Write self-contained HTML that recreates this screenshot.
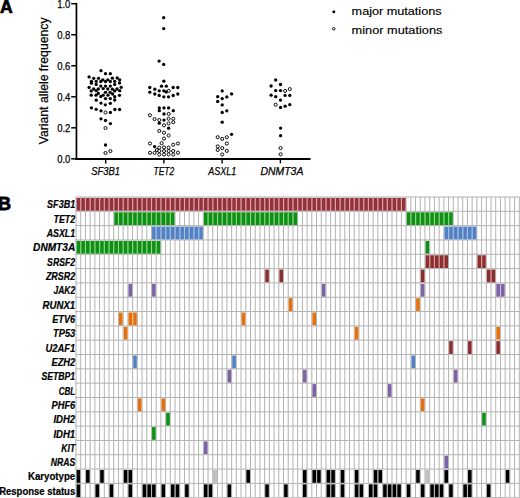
<!DOCTYPE html>
<html><head><meta charset="utf-8"><title>Figure</title>
<style>
html,body{margin:0;padding:0;background:#fff;}
body{width:520px;height:498px;overflow:hidden;}
svg{display:block;font-family:"Liberation Sans",sans-serif;}
</style></head>
<body>
<svg width="520" height="498" viewBox="0 0 520 498">
<rect width="520" height="498" fill="#fff"/>
<text x="0.1" y="12.8" font-size="17.6" font-weight="bold" stroke="#000" stroke-width="0.7">A</text>
<text x="-1.9" y="209.6" font-size="18.0" font-weight="bold" stroke="#000" stroke-width="0.8">B</text>
<text transform="translate(47.9,80.9) rotate(-90)" text-anchor="middle" font-size="12" stroke="#000" stroke-width="0.25" textLength="126.8" lengthAdjust="spacingAndGlyphs">Variant allele frequency</text>
<g stroke-linecap="butt">
<line x1="76.45" y1="2.9" x2="76.45" y2="159.8" stroke="#000" stroke-width="1.7"/>
<line x1="75.4" y1="159.0" x2="310.5" y2="159.0" stroke="#000" stroke-width="1.8"/>
<line x1="71.2" y1="3.70" x2="76.4" y2="3.70" stroke="#000" stroke-width="1.5"/>
<line x1="71.2" y1="34.73" x2="76.4" y2="34.73" stroke="#000" stroke-width="1.5"/>
<line x1="71.2" y1="65.76" x2="76.4" y2="65.76" stroke="#000" stroke-width="1.5"/>
<line x1="71.2" y1="96.79" x2="76.4" y2="96.79" stroke="#000" stroke-width="1.5"/>
<line x1="71.2" y1="127.82" x2="76.4" y2="127.82" stroke="#000" stroke-width="1.5"/>
<line x1="71.2" y1="158.85" x2="76.4" y2="158.85" stroke="#000" stroke-width="1.5"/>
<line x1="105.7" y1="159.0" x2="105.7" y2="163.4" stroke="#000" stroke-width="1.4"/>
<line x1="163.9" y1="159.0" x2="163.9" y2="163.4" stroke="#000" stroke-width="1.4"/>
<line x1="222.1" y1="159.0" x2="222.1" y2="163.4" stroke="#000" stroke-width="1.4"/>
<line x1="280.4" y1="159.0" x2="280.4" y2="163.4" stroke="#000" stroke-width="1.4"/>
</g>
<g font-size="10.4" stroke="#000" stroke-width="0.25">
<text x="70.4" y="7.80" text-anchor="end" textLength="13.2" lengthAdjust="spacingAndGlyphs">1.0</text>
<text x="70.4" y="38.83" text-anchor="end" textLength="13.2" lengthAdjust="spacingAndGlyphs">0.8</text>
<text x="70.4" y="69.86" text-anchor="end" textLength="13.2" lengthAdjust="spacingAndGlyphs">0.6</text>
<text x="70.4" y="100.89" text-anchor="end" textLength="13.2" lengthAdjust="spacingAndGlyphs">0.4</text>
<text x="70.4" y="131.92" text-anchor="end" textLength="13.2" lengthAdjust="spacingAndGlyphs">0.2</text>
<text x="70.4" y="162.95" text-anchor="end" textLength="13.2" lengthAdjust="spacingAndGlyphs">0.0</text>
<text x="105.7" y="175.0" text-anchor="middle" font-style="italic" font-size="10.8" textLength="28.7" lengthAdjust="spacingAndGlyphs">SF3B1</text>
<text x="163.9" y="175.0" text-anchor="middle" font-style="italic" font-size="10.8" textLength="20.7" lengthAdjust="spacingAndGlyphs">TET2</text>
<text x="222.3" y="175.0" text-anchor="middle" font-style="italic" font-size="10.8" textLength="27.9" lengthAdjust="spacingAndGlyphs">ASXL1</text>
<text x="281.9" y="175.0" text-anchor="middle" font-style="italic" font-size="10.8" textLength="42.9" lengthAdjust="spacingAndGlyphs">DNMT3A</text>
</g>
<g fill="#000">
<circle cx="101.0" cy="70.7" r="1.65"/>
<circle cx="105.5" cy="73.7" r="1.65"/>
<circle cx="110.3" cy="73.7" r="1.65"/>
<circle cx="89.1" cy="76.9" r="1.65"/>
<circle cx="93.7" cy="78.3" r="1.65"/>
<circle cx="98.5" cy="78.3" r="1.65"/>
<circle cx="112.4" cy="78.2" r="1.65"/>
<circle cx="117.2" cy="78.0" r="1.65"/>
<circle cx="100.8" cy="81.5" r="1.65"/>
<circle cx="102.8" cy="79.8" r="1.65"/>
<circle cx="105.5" cy="81.5" r="1.65"/>
<circle cx="107.8" cy="79.8" r="1.65"/>
<circle cx="110.3" cy="81.5" r="1.65"/>
<circle cx="91.4" cy="81.3" r="1.65"/>
<circle cx="91.4" cy="83.2" r="1.65"/>
<circle cx="96.2" cy="81.3" r="1.65"/>
<circle cx="96.2" cy="84.4" r="1.65"/>
<circle cx="114.7" cy="81.3" r="1.65"/>
<circle cx="114.7" cy="84.4" r="1.65"/>
<circle cx="119.7" cy="79.8" r="1.65"/>
<circle cx="119.5" cy="83.0" r="1.65"/>
<circle cx="89.1" cy="87.4" r="1.65"/>
<circle cx="100.8" cy="86.1" r="1.65"/>
<circle cx="105.5" cy="86.1" r="1.65"/>
<circle cx="110.3" cy="86.1" r="1.65"/>
<circle cx="121.2" cy="87.3" r="1.65"/>
<circle cx="93.7" cy="89.0" r="1.65"/>
<circle cx="98.3" cy="89.0" r="1.65"/>
<circle cx="103.2" cy="88.6" r="1.65"/>
<circle cx="107.8" cy="89.0" r="1.65"/>
<circle cx="112.4" cy="89.2" r="1.65"/>
<circle cx="117.0" cy="89.0" r="1.65"/>
<circle cx="91.2" cy="90.9" r="1.65"/>
<circle cx="96.2" cy="90.7" r="1.65"/>
<circle cx="114.7" cy="90.9" r="1.65"/>
<circle cx="119.7" cy="90.7" r="1.65"/>
<circle cx="105.5" cy="92.3" r="1.65"/>
<circle cx="110.1" cy="92.3" r="1.65"/>
<circle cx="98.3" cy="93.4" r="1.65"/>
<circle cx="112.6" cy="94.0" r="1.65"/>
<circle cx="91.2" cy="95.2" r="1.65"/>
<circle cx="96.0" cy="95.2" r="1.65"/>
<circle cx="103.2" cy="95.2" r="1.65"/>
<circle cx="108.0" cy="95.2" r="1.65"/>
<circle cx="119.5" cy="95.3" r="1.65"/>
<circle cx="100.8" cy="96.5" r="1.65"/>
<circle cx="114.7" cy="96.7" r="1.65"/>
<circle cx="105.5" cy="98.6" r="1.65"/>
<circle cx="110.3" cy="98.6" r="1.65"/>
<circle cx="114.7" cy="100.0" r="1.65"/>
<circle cx="96.2" cy="100.2" r="1.65"/>
<circle cx="101.0" cy="103.1" r="1.65"/>
<circle cx="110.3" cy="103.3" r="1.65"/>
<circle cx="105.3" cy="104.8" r="1.65"/>
<circle cx="91.4" cy="107.8" r="1.65"/>
<circle cx="96.2" cy="109.3" r="1.65"/>
<circle cx="101.0" cy="110.8" r="1.65"/>
<circle cx="105.5" cy="112.5" r="1.55" fill="#fff" stroke="#000" stroke-width="0.95"/>
<circle cx="110.4" cy="112.5" r="1.65"/>
<circle cx="114.9" cy="109.5" r="1.65"/>
<circle cx="119.6" cy="109.5" r="1.65"/>
<circle cx="101.0" cy="118.8" r="1.65"/>
<circle cx="105.5" cy="120.5" r="1.65"/>
<circle cx="110.4" cy="123.6" r="1.65"/>
<circle cx="105.5" cy="128.0" r="1.55" fill="#fff" stroke="#000" stroke-width="0.95"/>
<circle cx="105.5" cy="145.0" r="1.65"/>
<circle cx="105.5" cy="153.0" r="1.55" fill="#fff" stroke="#000" stroke-width="0.95"/>
<circle cx="110.4" cy="151.1" r="1.55" fill="#fff" stroke="#000" stroke-width="0.95"/>
<circle cx="163.7" cy="17.7" r="1.65"/>
<circle cx="163.7" cy="28.6" r="1.65"/>
<circle cx="159.1" cy="61.1" r="1.65"/>
<circle cx="163.7" cy="64.4" r="1.65"/>
<circle cx="163.8" cy="81.2" r="1.65"/>
<circle cx="161.5" cy="86.2" r="1.65"/>
<circle cx="166.3" cy="86.2" r="1.65"/>
<circle cx="149.8" cy="87.5" r="1.65"/>
<circle cx="173.2" cy="87.5" r="1.65"/>
<circle cx="177.8" cy="87.5" r="1.65"/>
<circle cx="154.8" cy="89.2" r="1.65"/>
<circle cx="159.2" cy="90.8" r="1.65"/>
<circle cx="163.8" cy="90.8" r="1.65"/>
<circle cx="166.2" cy="92.0" r="1.65"/>
<circle cx="168.8" cy="90.8" r="1.55" fill="#fff" stroke="#000" stroke-width="0.95"/>
<circle cx="149.8" cy="92.2" r="1.65"/>
<circle cx="154.8" cy="94.0" r="1.65"/>
<circle cx="159.2" cy="95.5" r="1.65"/>
<circle cx="163.8" cy="96.8" r="1.65"/>
<circle cx="168.5" cy="96.8" r="1.65"/>
<circle cx="173.2" cy="95.5" r="1.65"/>
<circle cx="177.8" cy="94.0" r="1.65"/>
<circle cx="159.3" cy="107.9" r="1.65"/>
<circle cx="159.3" cy="110.7" r="1.65"/>
<circle cx="164.0" cy="107.9" r="1.65"/>
<circle cx="168.6" cy="107.9" r="1.65"/>
<circle cx="173.3" cy="110.7" r="1.65"/>
<circle cx="149.9" cy="115.2" r="1.55" fill="#fff" stroke="#000" stroke-width="0.95"/>
<circle cx="164.0" cy="114.0" r="1.65"/>
<circle cx="168.7" cy="113.9" r="1.55" fill="#fff" stroke="#000" stroke-width="0.95"/>
<circle cx="154.6" cy="119.1" r="1.55" fill="#fff" stroke="#000" stroke-width="0.95"/>
<circle cx="159.3" cy="120.1" r="1.55" fill="#fff" stroke="#000" stroke-width="0.95"/>
<circle cx="164.0" cy="120.1" r="1.65"/>
<circle cx="168.6" cy="118.7" r="1.55" fill="#fff" stroke="#000" stroke-width="0.95"/>
<circle cx="173.3" cy="118.7" r="1.55" fill="#fff" stroke="#000" stroke-width="0.95"/>
<circle cx="159.3" cy="123.2" r="1.65"/>
<circle cx="164.0" cy="125.3" r="1.55" fill="#fff" stroke="#000" stroke-width="0.95"/>
<circle cx="168.6" cy="123.5" r="1.55" fill="#fff" stroke="#000" stroke-width="0.95"/>
<circle cx="173.3" cy="122.2" r="1.55" fill="#fff" stroke="#000" stroke-width="0.95"/>
<circle cx="168.6" cy="128.2" r="1.65"/>
<circle cx="159.3" cy="130.9" r="1.55" fill="#fff" stroke="#000" stroke-width="0.95"/>
<circle cx="164.0" cy="132.7" r="1.55" fill="#fff" stroke="#000" stroke-width="0.95"/>
<circle cx="168.6" cy="135.5" r="1.55" fill="#fff" stroke="#000" stroke-width="0.95"/>
<circle cx="164.0" cy="138.6" r="1.55" fill="#fff" stroke="#000" stroke-width="0.95"/>
<circle cx="150.0" cy="143.5" r="1.55" fill="#fff" stroke="#000" stroke-width="0.95"/>
<circle cx="161.6" cy="143.2" r="1.55" fill="#fff" stroke="#000" stroke-width="0.95"/>
<circle cx="173.2" cy="144.7" r="1.55" fill="#fff" stroke="#000" stroke-width="0.95"/>
<circle cx="177.9" cy="143.5" r="1.55" fill="#fff" stroke="#000" stroke-width="0.95"/>
<circle cx="154.6" cy="146.6" r="1.65"/>
<circle cx="159.3" cy="147.6" r="1.55" fill="#fff" stroke="#000" stroke-width="0.95"/>
<circle cx="164.0" cy="147.4" r="1.55" fill="#fff" stroke="#000" stroke-width="0.95"/>
<circle cx="168.6" cy="147.6" r="1.55" fill="#fff" stroke="#000" stroke-width="0.95"/>
<circle cx="156.9" cy="150.0" r="1.55" fill="#fff" stroke="#000" stroke-width="0.95"/>
<circle cx="159.3" cy="151.0" r="1.55" fill="#fff" stroke="#000" stroke-width="0.95"/>
<circle cx="164.0" cy="151.0" r="1.55" fill="#fff" stroke="#000" stroke-width="0.95"/>
<circle cx="168.6" cy="151.0" r="1.55" fill="#fff" stroke="#000" stroke-width="0.95"/>
<circle cx="173.2" cy="151.0" r="1.55" fill="#fff" stroke="#000" stroke-width="0.95"/>
<circle cx="150.0" cy="152.8" r="1.55" fill="#fff" stroke="#000" stroke-width="0.95"/>
<circle cx="154.6" cy="152.9" r="1.55" fill="#fff" stroke="#000" stroke-width="0.95"/>
<circle cx="177.9" cy="152.7" r="1.55" fill="#fff" stroke="#000" stroke-width="0.95"/>
<circle cx="159.3" cy="154.5" r="1.55" fill="#fff" stroke="#000" stroke-width="0.95"/>
<circle cx="164.0" cy="154.5" r="1.55" fill="#fff" stroke="#000" stroke-width="0.95"/>
<circle cx="168.6" cy="154.5" r="1.55" fill="#fff" stroke="#000" stroke-width="0.95"/>
<circle cx="173.3" cy="154.5" r="1.55" fill="#fff" stroke="#000" stroke-width="0.95"/>
<circle cx="222.2" cy="90.9" r="1.65"/>
<circle cx="231.6" cy="93.9" r="1.65"/>
<circle cx="217.7" cy="96.7" r="1.65"/>
<circle cx="222.2" cy="98.6" r="1.65"/>
<circle cx="226.8" cy="96.9" r="1.65"/>
<circle cx="217.7" cy="101.4" r="1.65"/>
<circle cx="222.2" cy="104.9" r="1.65"/>
<circle cx="226.8" cy="110.8" r="1.65"/>
<circle cx="222.2" cy="112.5" r="1.65"/>
<circle cx="222.2" cy="122.2" r="1.65"/>
<circle cx="231.6" cy="134.3" r="1.65"/>
<circle cx="217.7" cy="137.2" r="1.55" fill="#fff" stroke="#000" stroke-width="0.95"/>
<circle cx="222.2" cy="138.9" r="1.55" fill="#fff" stroke="#000" stroke-width="0.95"/>
<circle cx="226.8" cy="137.2" r="1.55" fill="#fff" stroke="#000" stroke-width="0.95"/>
<circle cx="226.8" cy="143.5" r="1.55" fill="#fff" stroke="#000" stroke-width="0.95"/>
<circle cx="217.7" cy="146.4" r="1.55" fill="#fff" stroke="#000" stroke-width="0.95"/>
<circle cx="217.7" cy="150.0" r="1.55" fill="#fff" stroke="#000" stroke-width="0.95"/>
<circle cx="222.2" cy="148.1" r="1.55" fill="#fff" stroke="#000" stroke-width="0.95"/>
<circle cx="226.8" cy="150.9" r="1.55" fill="#fff" stroke="#000" stroke-width="0.95"/>
<circle cx="222.2" cy="154.5" r="1.55" fill="#fff" stroke="#000" stroke-width="0.95"/>
<circle cx="275.7" cy="80.0" r="1.65"/>
<circle cx="271.1" cy="86.0" r="1.65"/>
<circle cx="280.5" cy="84.5" r="1.65"/>
<circle cx="275.7" cy="90.6" r="1.65"/>
<circle cx="280.5" cy="90.6" r="1.65"/>
<circle cx="285.1" cy="90.9" r="1.55" fill="#fff" stroke="#000" stroke-width="0.95"/>
<circle cx="289.8" cy="89.1" r="1.55" fill="#fff" stroke="#000" stroke-width="0.95"/>
<circle cx="271.1" cy="95.2" r="1.65"/>
<circle cx="275.7" cy="96.7" r="1.65"/>
<circle cx="285.1" cy="95.4" r="1.65"/>
<circle cx="289.8" cy="95.4" r="1.65"/>
<circle cx="280.5" cy="100.1" r="1.65"/>
<circle cx="275.7" cy="104.7" r="1.55" fill="#fff" stroke="#000" stroke-width="0.95"/>
<circle cx="280.5" cy="107.5" r="1.65"/>
<circle cx="285.1" cy="106.2" r="1.65"/>
<circle cx="289.8" cy="104.7" r="1.65"/>
<circle cx="280.6" cy="128.1" r="1.65"/>
<circle cx="280.6" cy="135.7" r="1.65"/>
<circle cx="280.6" cy="148.1" r="1.55" fill="#fff" stroke="#000" stroke-width="0.95"/>
<circle cx="280.6" cy="154.3" r="1.55" fill="#fff" stroke="#000" stroke-width="0.95"/>
</g>
<g fill="#000" stroke-width="0.25">
<circle cx="333.8" cy="11.8" r="1.5"/>
<circle cx="333.8" cy="28.8" r="1.3" fill="#fff" stroke="#000" stroke-width="0.9"/>
<text x="351.6" y="15.2" font-size="11" stroke="#000" stroke-width="0.15" textLength="90.0" lengthAdjust="spacingAndGlyphs">major mutations</text>
<text x="351.6" y="33.8" font-size="11" stroke="#000" stroke-width="0.15" textLength="90.8" lengthAdjust="spacingAndGlyphs">minor mutations</text>
</g>
<g stroke="#b2b2b2" stroke-width="1">
<line x1="76.00" y1="197.00" x2="76.00" y2="497.72"/>
<line x1="80.72" y1="197.00" x2="80.72" y2="497.72"/>
<line x1="85.43" y1="197.00" x2="85.43" y2="497.72"/>
<line x1="90.15" y1="197.00" x2="90.15" y2="497.72"/>
<line x1="94.86" y1="197.00" x2="94.86" y2="497.72"/>
<line x1="99.58" y1="197.00" x2="99.58" y2="497.72"/>
<line x1="104.30" y1="197.00" x2="104.30" y2="497.72"/>
<line x1="109.01" y1="197.00" x2="109.01" y2="497.72"/>
<line x1="113.73" y1="197.00" x2="113.73" y2="497.72"/>
<line x1="118.44" y1="197.00" x2="118.44" y2="497.72"/>
<line x1="123.16" y1="197.00" x2="123.16" y2="497.72"/>
<line x1="127.88" y1="197.00" x2="127.88" y2="497.72"/>
<line x1="132.59" y1="197.00" x2="132.59" y2="497.72"/>
<line x1="137.31" y1="197.00" x2="137.31" y2="497.72"/>
<line x1="142.02" y1="197.00" x2="142.02" y2="497.72"/>
<line x1="146.74" y1="197.00" x2="146.74" y2="497.72"/>
<line x1="151.46" y1="197.00" x2="151.46" y2="497.72"/>
<line x1="156.17" y1="197.00" x2="156.17" y2="497.72"/>
<line x1="160.89" y1="197.00" x2="160.89" y2="497.72"/>
<line x1="165.60" y1="197.00" x2="165.60" y2="497.72"/>
<line x1="170.32" y1="197.00" x2="170.32" y2="497.72"/>
<line x1="175.04" y1="197.00" x2="175.04" y2="497.72"/>
<line x1="179.75" y1="197.00" x2="179.75" y2="497.72"/>
<line x1="184.47" y1="197.00" x2="184.47" y2="497.72"/>
<line x1="189.18" y1="197.00" x2="189.18" y2="497.72"/>
<line x1="193.90" y1="197.00" x2="193.90" y2="497.72"/>
<line x1="198.62" y1="197.00" x2="198.62" y2="497.72"/>
<line x1="203.33" y1="197.00" x2="203.33" y2="497.72"/>
<line x1="208.05" y1="197.00" x2="208.05" y2="497.72"/>
<line x1="212.76" y1="197.00" x2="212.76" y2="497.72"/>
<line x1="217.48" y1="197.00" x2="217.48" y2="497.72"/>
<line x1="222.20" y1="197.00" x2="222.20" y2="497.72"/>
<line x1="226.91" y1="197.00" x2="226.91" y2="497.72"/>
<line x1="231.63" y1="197.00" x2="231.63" y2="497.72"/>
<line x1="236.34" y1="197.00" x2="236.34" y2="497.72"/>
<line x1="241.06" y1="197.00" x2="241.06" y2="497.72"/>
<line x1="245.78" y1="197.00" x2="245.78" y2="497.72"/>
<line x1="250.49" y1="197.00" x2="250.49" y2="497.72"/>
<line x1="255.21" y1="197.00" x2="255.21" y2="497.72"/>
<line x1="259.92" y1="197.00" x2="259.92" y2="497.72"/>
<line x1="264.64" y1="197.00" x2="264.64" y2="497.72"/>
<line x1="269.36" y1="197.00" x2="269.36" y2="497.72"/>
<line x1="274.07" y1="197.00" x2="274.07" y2="497.72"/>
<line x1="278.79" y1="197.00" x2="278.79" y2="497.72"/>
<line x1="283.50" y1="197.00" x2="283.50" y2="497.72"/>
<line x1="288.22" y1="197.00" x2="288.22" y2="497.72"/>
<line x1="292.94" y1="197.00" x2="292.94" y2="497.72"/>
<line x1="297.65" y1="197.00" x2="297.65" y2="497.72"/>
<line x1="302.37" y1="197.00" x2="302.37" y2="497.72"/>
<line x1="307.08" y1="197.00" x2="307.08" y2="497.72"/>
<line x1="311.80" y1="197.00" x2="311.80" y2="497.72"/>
<line x1="316.52" y1="197.00" x2="316.52" y2="497.72"/>
<line x1="321.23" y1="197.00" x2="321.23" y2="497.72"/>
<line x1="325.95" y1="197.00" x2="325.95" y2="497.72"/>
<line x1="330.66" y1="197.00" x2="330.66" y2="497.72"/>
<line x1="335.38" y1="197.00" x2="335.38" y2="497.72"/>
<line x1="340.10" y1="197.00" x2="340.10" y2="497.72"/>
<line x1="344.81" y1="197.00" x2="344.81" y2="497.72"/>
<line x1="349.53" y1="197.00" x2="349.53" y2="497.72"/>
<line x1="354.24" y1="197.00" x2="354.24" y2="497.72"/>
<line x1="358.96" y1="197.00" x2="358.96" y2="497.72"/>
<line x1="363.68" y1="197.00" x2="363.68" y2="497.72"/>
<line x1="368.39" y1="197.00" x2="368.39" y2="497.72"/>
<line x1="373.11" y1="197.00" x2="373.11" y2="497.72"/>
<line x1="377.82" y1="197.00" x2="377.82" y2="497.72"/>
<line x1="382.54" y1="197.00" x2="382.54" y2="497.72"/>
<line x1="387.26" y1="197.00" x2="387.26" y2="497.72"/>
<line x1="391.97" y1="197.00" x2="391.97" y2="497.72"/>
<line x1="396.69" y1="197.00" x2="396.69" y2="497.72"/>
<line x1="401.40" y1="197.00" x2="401.40" y2="497.72"/>
<line x1="406.12" y1="197.00" x2="406.12" y2="497.72"/>
<line x1="410.84" y1="197.00" x2="410.84" y2="497.72"/>
<line x1="415.55" y1="197.00" x2="415.55" y2="497.72"/>
<line x1="420.27" y1="197.00" x2="420.27" y2="497.72"/>
<line x1="424.98" y1="197.00" x2="424.98" y2="497.72"/>
<line x1="429.70" y1="197.00" x2="429.70" y2="497.72"/>
<line x1="434.42" y1="197.00" x2="434.42" y2="497.72"/>
<line x1="439.13" y1="197.00" x2="439.13" y2="497.72"/>
<line x1="443.85" y1="197.00" x2="443.85" y2="497.72"/>
<line x1="448.56" y1="197.00" x2="448.56" y2="497.72"/>
<line x1="453.28" y1="197.00" x2="453.28" y2="497.72"/>
<line x1="458.00" y1="197.00" x2="458.00" y2="497.72"/>
<line x1="462.71" y1="197.00" x2="462.71" y2="497.72"/>
<line x1="467.43" y1="197.00" x2="467.43" y2="497.72"/>
<line x1="472.14" y1="197.00" x2="472.14" y2="497.72"/>
<line x1="476.86" y1="197.00" x2="476.86" y2="497.72"/>
<line x1="481.58" y1="197.00" x2="481.58" y2="497.72"/>
<line x1="486.29" y1="197.00" x2="486.29" y2="497.72"/>
<line x1="491.01" y1="197.00" x2="491.01" y2="497.72"/>
<line x1="495.72" y1="197.00" x2="495.72" y2="497.72"/>
<line x1="500.44" y1="197.00" x2="500.44" y2="497.72"/>
<line x1="505.16" y1="197.00" x2="505.16" y2="497.72"/>
<line x1="509.87" y1="197.00" x2="509.87" y2="497.72"/>
<line x1="514.59" y1="197.00" x2="514.59" y2="497.72"/>
<line x1="519.30" y1="197.00" x2="519.30" y2="497.72"/>
<line x1="75.40" y1="197.00" x2="519.80" y2="197.00"/>
<line x1="75.40" y1="211.32" x2="519.80" y2="211.32"/>
<line x1="75.40" y1="225.64" x2="519.80" y2="225.64"/>
<line x1="75.40" y1="239.96" x2="519.80" y2="239.96"/>
<line x1="75.40" y1="254.28" x2="519.80" y2="254.28"/>
<line x1="75.40" y1="268.60" x2="519.80" y2="268.60"/>
<line x1="75.40" y1="282.92" x2="519.80" y2="282.92"/>
<line x1="75.40" y1="297.24" x2="519.80" y2="297.24"/>
<line x1="75.40" y1="311.56" x2="519.80" y2="311.56"/>
<line x1="75.40" y1="325.88" x2="519.80" y2="325.88"/>
<line x1="75.40" y1="340.20" x2="519.80" y2="340.20"/>
<line x1="75.40" y1="354.52" x2="519.80" y2="354.52"/>
<line x1="75.40" y1="368.84" x2="519.80" y2="368.84"/>
<line x1="75.40" y1="383.16" x2="519.80" y2="383.16"/>
<line x1="75.40" y1="397.48" x2="519.80" y2="397.48"/>
<line x1="75.40" y1="411.80" x2="519.80" y2="411.80"/>
<line x1="75.40" y1="426.12" x2="519.80" y2="426.12"/>
<line x1="75.40" y1="440.44" x2="519.80" y2="440.44"/>
<line x1="75.40" y1="454.76" x2="519.80" y2="454.76"/>
<line x1="75.40" y1="469.08" x2="519.80" y2="469.08"/>
<line x1="75.40" y1="483.40" x2="519.80" y2="483.40"/>
<line x1="75.40" y1="497.72" x2="519.80" y2="497.72"/>
</g>
<g>
<rect x="80.12" y="197.95" width="1.3" height="12.77" fill="#e2a4a8"/>
<rect x="84.83" y="197.95" width="1.3" height="12.77" fill="#e2a4a8"/>
<rect x="89.55" y="197.95" width="1.3" height="12.77" fill="#e2a4a8"/>
<rect x="94.26" y="197.95" width="1.3" height="12.77" fill="#e2a4a8"/>
<rect x="98.98" y="197.95" width="1.3" height="12.77" fill="#e2a4a8"/>
<rect x="103.70" y="197.95" width="1.3" height="12.77" fill="#e2a4a8"/>
<rect x="108.41" y="197.95" width="1.3" height="12.77" fill="#e2a4a8"/>
<rect x="113.13" y="197.95" width="1.3" height="12.77" fill="#e2a4a8"/>
<rect x="117.84" y="197.95" width="1.3" height="12.77" fill="#e2a4a8"/>
<rect x="122.56" y="197.95" width="1.3" height="12.77" fill="#e2a4a8"/>
<rect x="127.28" y="197.95" width="1.3" height="12.77" fill="#e2a4a8"/>
<rect x="131.99" y="197.95" width="1.3" height="12.77" fill="#e2a4a8"/>
<rect x="136.71" y="197.95" width="1.3" height="12.77" fill="#e2a4a8"/>
<rect x="141.42" y="197.95" width="1.3" height="12.77" fill="#e2a4a8"/>
<rect x="146.14" y="197.95" width="1.3" height="12.77" fill="#e2a4a8"/>
<rect x="150.86" y="197.95" width="1.3" height="12.77" fill="#e2a4a8"/>
<rect x="155.57" y="197.95" width="1.3" height="12.77" fill="#e2a4a8"/>
<rect x="160.29" y="197.95" width="1.3" height="12.77" fill="#e2a4a8"/>
<rect x="165.00" y="197.95" width="1.3" height="12.77" fill="#e2a4a8"/>
<rect x="169.72" y="197.95" width="1.3" height="12.77" fill="#e2a4a8"/>
<rect x="174.44" y="197.95" width="1.3" height="12.77" fill="#e2a4a8"/>
<rect x="179.15" y="197.95" width="1.3" height="12.77" fill="#e2a4a8"/>
<rect x="183.87" y="197.95" width="1.3" height="12.77" fill="#e2a4a8"/>
<rect x="188.58" y="197.95" width="1.3" height="12.77" fill="#e2a4a8"/>
<rect x="193.30" y="197.95" width="1.3" height="12.77" fill="#e2a4a8"/>
<rect x="198.02" y="197.95" width="1.3" height="12.77" fill="#e2a4a8"/>
<rect x="202.73" y="197.95" width="1.3" height="12.77" fill="#e2a4a8"/>
<rect x="207.45" y="197.95" width="1.3" height="12.77" fill="#e2a4a8"/>
<rect x="212.16" y="197.95" width="1.3" height="12.77" fill="#e2a4a8"/>
<rect x="216.88" y="197.95" width="1.3" height="12.77" fill="#e2a4a8"/>
<rect x="221.60" y="197.95" width="1.3" height="12.77" fill="#e2a4a8"/>
<rect x="226.31" y="197.95" width="1.3" height="12.77" fill="#e2a4a8"/>
<rect x="231.03" y="197.95" width="1.3" height="12.77" fill="#e2a4a8"/>
<rect x="235.74" y="197.95" width="1.3" height="12.77" fill="#e2a4a8"/>
<rect x="240.46" y="197.95" width="1.3" height="12.77" fill="#e2a4a8"/>
<rect x="245.18" y="197.95" width="1.3" height="12.77" fill="#e2a4a8"/>
<rect x="249.89" y="197.95" width="1.3" height="12.77" fill="#e2a4a8"/>
<rect x="254.61" y="197.95" width="1.3" height="12.77" fill="#e2a4a8"/>
<rect x="259.32" y="197.95" width="1.3" height="12.77" fill="#e2a4a8"/>
<rect x="264.04" y="197.95" width="1.3" height="12.77" fill="#e2a4a8"/>
<rect x="268.76" y="197.95" width="1.3" height="12.77" fill="#e2a4a8"/>
<rect x="273.47" y="197.95" width="1.3" height="12.77" fill="#e2a4a8"/>
<rect x="278.19" y="197.95" width="1.3" height="12.77" fill="#e2a4a8"/>
<rect x="282.90" y="197.95" width="1.3" height="12.77" fill="#e2a4a8"/>
<rect x="287.62" y="197.95" width="1.3" height="12.77" fill="#e2a4a8"/>
<rect x="292.34" y="197.95" width="1.3" height="12.77" fill="#e2a4a8"/>
<rect x="297.05" y="197.95" width="1.3" height="12.77" fill="#e2a4a8"/>
<rect x="301.77" y="197.95" width="1.3" height="12.77" fill="#e2a4a8"/>
<rect x="306.48" y="197.95" width="1.3" height="12.77" fill="#e2a4a8"/>
<rect x="311.20" y="197.95" width="1.3" height="12.77" fill="#e2a4a8"/>
<rect x="315.92" y="197.95" width="1.3" height="12.77" fill="#e2a4a8"/>
<rect x="320.63" y="197.95" width="1.3" height="12.77" fill="#e2a4a8"/>
<rect x="325.35" y="197.95" width="1.3" height="12.77" fill="#e2a4a8"/>
<rect x="330.06" y="197.95" width="1.3" height="12.77" fill="#e2a4a8"/>
<rect x="334.78" y="197.95" width="1.3" height="12.77" fill="#e2a4a8"/>
<rect x="339.50" y="197.95" width="1.3" height="12.77" fill="#e2a4a8"/>
<rect x="344.21" y="197.95" width="1.3" height="12.77" fill="#e2a4a8"/>
<rect x="348.93" y="197.95" width="1.3" height="12.77" fill="#e2a4a8"/>
<rect x="353.64" y="197.95" width="1.3" height="12.77" fill="#e2a4a8"/>
<rect x="358.36" y="197.95" width="1.3" height="12.77" fill="#e2a4a8"/>
<rect x="363.08" y="197.95" width="1.3" height="12.77" fill="#e2a4a8"/>
<rect x="367.79" y="197.95" width="1.3" height="12.77" fill="#e2a4a8"/>
<rect x="372.51" y="197.95" width="1.3" height="12.77" fill="#e2a4a8"/>
<rect x="377.22" y="197.95" width="1.3" height="12.77" fill="#e2a4a8"/>
<rect x="381.94" y="197.95" width="1.3" height="12.77" fill="#e2a4a8"/>
<rect x="386.66" y="197.95" width="1.3" height="12.77" fill="#e2a4a8"/>
<rect x="391.37" y="197.95" width="1.3" height="12.77" fill="#e2a4a8"/>
<rect x="396.09" y="197.95" width="1.3" height="12.77" fill="#e2a4a8"/>
<rect x="400.80" y="197.95" width="1.3" height="12.77" fill="#e2a4a8"/>
<rect x="76.60" y="197.95" width="3.60" height="12.77" fill="#94323c"/>
<rect x="81.32" y="197.95" width="3.60" height="12.77" fill="#94323c"/>
<rect x="86.03" y="197.95" width="3.60" height="12.77" fill="#94323c"/>
<rect x="90.75" y="197.95" width="3.60" height="12.77" fill="#94323c"/>
<rect x="95.46" y="197.95" width="3.60" height="12.77" fill="#94323c"/>
<rect x="100.18" y="197.95" width="3.60" height="12.77" fill="#94323c"/>
<rect x="104.90" y="197.95" width="3.60" height="12.77" fill="#94323c"/>
<rect x="109.61" y="197.95" width="3.60" height="12.77" fill="#94323c"/>
<rect x="114.33" y="197.95" width="3.60" height="12.77" fill="#94323c"/>
<rect x="119.04" y="197.95" width="3.60" height="12.77" fill="#94323c"/>
<rect x="123.76" y="197.95" width="3.60" height="12.77" fill="#94323c"/>
<rect x="128.48" y="197.95" width="3.60" height="12.77" fill="#94323c"/>
<rect x="133.19" y="197.95" width="3.60" height="12.77" fill="#94323c"/>
<rect x="137.91" y="197.95" width="3.60" height="12.77" fill="#94323c"/>
<rect x="142.62" y="197.95" width="3.60" height="12.77" fill="#94323c"/>
<rect x="147.34" y="197.95" width="3.60" height="12.77" fill="#94323c"/>
<rect x="152.06" y="197.95" width="3.60" height="12.77" fill="#94323c"/>
<rect x="156.77" y="197.95" width="3.60" height="12.77" fill="#94323c"/>
<rect x="161.49" y="197.95" width="3.60" height="12.77" fill="#94323c"/>
<rect x="166.20" y="197.95" width="3.60" height="12.77" fill="#94323c"/>
<rect x="170.92" y="197.95" width="3.60" height="12.77" fill="#94323c"/>
<rect x="175.64" y="197.95" width="3.60" height="12.77" fill="#94323c"/>
<rect x="180.35" y="197.95" width="3.60" height="12.77" fill="#94323c"/>
<rect x="185.07" y="197.95" width="3.60" height="12.77" fill="#94323c"/>
<rect x="189.78" y="197.95" width="3.60" height="12.77" fill="#94323c"/>
<rect x="194.50" y="197.95" width="3.60" height="12.77" fill="#94323c"/>
<rect x="199.22" y="197.95" width="3.60" height="12.77" fill="#94323c"/>
<rect x="203.93" y="197.95" width="3.60" height="12.77" fill="#94323c"/>
<rect x="208.65" y="197.95" width="3.60" height="12.77" fill="#94323c"/>
<rect x="213.36" y="197.95" width="3.60" height="12.77" fill="#94323c"/>
<rect x="218.08" y="197.95" width="3.60" height="12.77" fill="#94323c"/>
<rect x="222.80" y="197.95" width="3.60" height="12.77" fill="#94323c"/>
<rect x="227.51" y="197.95" width="3.60" height="12.77" fill="#94323c"/>
<rect x="232.23" y="197.95" width="3.60" height="12.77" fill="#94323c"/>
<rect x="236.94" y="197.95" width="3.60" height="12.77" fill="#94323c"/>
<rect x="241.66" y="197.95" width="3.60" height="12.77" fill="#94323c"/>
<rect x="246.38" y="197.95" width="3.60" height="12.77" fill="#94323c"/>
<rect x="251.09" y="197.95" width="3.60" height="12.77" fill="#94323c"/>
<rect x="255.81" y="197.95" width="3.60" height="12.77" fill="#94323c"/>
<rect x="260.52" y="197.95" width="3.60" height="12.77" fill="#94323c"/>
<rect x="265.24" y="197.95" width="3.60" height="12.77" fill="#94323c"/>
<rect x="269.96" y="197.95" width="3.60" height="12.77" fill="#94323c"/>
<rect x="274.67" y="197.95" width="3.60" height="12.77" fill="#94323c"/>
<rect x="279.39" y="197.95" width="3.60" height="12.77" fill="#94323c"/>
<rect x="284.10" y="197.95" width="3.60" height="12.77" fill="#94323c"/>
<rect x="288.82" y="197.95" width="3.60" height="12.77" fill="#94323c"/>
<rect x="293.54" y="197.95" width="3.60" height="12.77" fill="#94323c"/>
<rect x="298.25" y="197.95" width="3.60" height="12.77" fill="#94323c"/>
<rect x="302.97" y="197.95" width="3.60" height="12.77" fill="#94323c"/>
<rect x="307.68" y="197.95" width="3.60" height="12.77" fill="#94323c"/>
<rect x="312.40" y="197.95" width="3.60" height="12.77" fill="#94323c"/>
<rect x="317.12" y="197.95" width="3.60" height="12.77" fill="#94323c"/>
<rect x="321.83" y="197.95" width="3.60" height="12.77" fill="#94323c"/>
<rect x="326.55" y="197.95" width="3.60" height="12.77" fill="#94323c"/>
<rect x="331.26" y="197.95" width="3.60" height="12.77" fill="#94323c"/>
<rect x="335.98" y="197.95" width="3.60" height="12.77" fill="#94323c"/>
<rect x="340.70" y="197.95" width="3.60" height="12.77" fill="#94323c"/>
<rect x="345.41" y="197.95" width="3.60" height="12.77" fill="#94323c"/>
<rect x="350.13" y="197.95" width="3.60" height="12.77" fill="#94323c"/>
<rect x="354.84" y="197.95" width="3.60" height="12.77" fill="#94323c"/>
<rect x="359.56" y="197.95" width="3.60" height="12.77" fill="#94323c"/>
<rect x="364.28" y="197.95" width="3.60" height="12.77" fill="#94323c"/>
<rect x="368.99" y="197.95" width="3.60" height="12.77" fill="#94323c"/>
<rect x="373.71" y="197.95" width="3.60" height="12.77" fill="#94323c"/>
<rect x="378.42" y="197.95" width="3.60" height="12.77" fill="#94323c"/>
<rect x="383.14" y="197.95" width="3.60" height="12.77" fill="#94323c"/>
<rect x="387.86" y="197.95" width="3.60" height="12.77" fill="#94323c"/>
<rect x="392.57" y="197.95" width="3.60" height="12.77" fill="#94323c"/>
<rect x="397.29" y="197.95" width="3.60" height="12.77" fill="#94323c"/>
<rect x="402.00" y="197.95" width="3.60" height="12.77" fill="#94323c"/>
<rect x="117.84" y="212.27" width="1.3" height="12.77" fill="#8cd888"/>
<rect x="122.56" y="212.27" width="1.3" height="12.77" fill="#8cd888"/>
<rect x="127.28" y="212.27" width="1.3" height="12.77" fill="#8cd888"/>
<rect x="131.99" y="212.27" width="1.3" height="12.77" fill="#8cd888"/>
<rect x="136.71" y="212.27" width="1.3" height="12.77" fill="#8cd888"/>
<rect x="141.42" y="212.27" width="1.3" height="12.77" fill="#8cd888"/>
<rect x="146.14" y="212.27" width="1.3" height="12.77" fill="#8cd888"/>
<rect x="150.86" y="212.27" width="1.3" height="12.77" fill="#8cd888"/>
<rect x="155.57" y="212.27" width="1.3" height="12.77" fill="#8cd888"/>
<rect x="160.29" y="212.27" width="1.3" height="12.77" fill="#8cd888"/>
<rect x="165.00" y="212.27" width="1.3" height="12.77" fill="#8cd888"/>
<rect x="169.72" y="212.27" width="1.3" height="12.77" fill="#8cd888"/>
<rect x="207.45" y="212.27" width="1.3" height="12.77" fill="#8cd888"/>
<rect x="212.16" y="212.27" width="1.3" height="12.77" fill="#8cd888"/>
<rect x="216.88" y="212.27" width="1.3" height="12.77" fill="#8cd888"/>
<rect x="221.60" y="212.27" width="1.3" height="12.77" fill="#8cd888"/>
<rect x="226.31" y="212.27" width="1.3" height="12.77" fill="#8cd888"/>
<rect x="231.03" y="212.27" width="1.3" height="12.77" fill="#8cd888"/>
<rect x="235.74" y="212.27" width="1.3" height="12.77" fill="#8cd888"/>
<rect x="240.46" y="212.27" width="1.3" height="12.77" fill="#8cd888"/>
<rect x="245.18" y="212.27" width="1.3" height="12.77" fill="#8cd888"/>
<rect x="249.89" y="212.27" width="1.3" height="12.77" fill="#8cd888"/>
<rect x="254.61" y="212.27" width="1.3" height="12.77" fill="#8cd888"/>
<rect x="259.32" y="212.27" width="1.3" height="12.77" fill="#8cd888"/>
<rect x="264.04" y="212.27" width="1.3" height="12.77" fill="#8cd888"/>
<rect x="268.76" y="212.27" width="1.3" height="12.77" fill="#8cd888"/>
<rect x="273.47" y="212.27" width="1.3" height="12.77" fill="#8cd888"/>
<rect x="278.19" y="212.27" width="1.3" height="12.77" fill="#8cd888"/>
<rect x="282.90" y="212.27" width="1.3" height="12.77" fill="#8cd888"/>
<rect x="287.62" y="212.27" width="1.3" height="12.77" fill="#8cd888"/>
<rect x="292.34" y="212.27" width="1.3" height="12.77" fill="#8cd888"/>
<rect x="410.24" y="212.27" width="1.3" height="12.77" fill="#8cd888"/>
<rect x="414.95" y="212.27" width="1.3" height="12.77" fill="#8cd888"/>
<rect x="419.67" y="212.27" width="1.3" height="12.77" fill="#8cd888"/>
<rect x="424.38" y="212.27" width="1.3" height="12.77" fill="#8cd888"/>
<rect x="429.10" y="212.27" width="1.3" height="12.77" fill="#8cd888"/>
<rect x="433.82" y="212.27" width="1.3" height="12.77" fill="#8cd888"/>
<rect x="438.53" y="212.27" width="1.3" height="12.77" fill="#8cd888"/>
<rect x="443.25" y="212.27" width="1.3" height="12.77" fill="#8cd888"/>
<rect x="447.96" y="212.27" width="1.3" height="12.77" fill="#8cd888"/>
<rect x="114.33" y="212.27" width="3.60" height="12.77" fill="#0e9012"/>
<rect x="119.04" y="212.27" width="3.60" height="12.77" fill="#0e9012"/>
<rect x="123.76" y="212.27" width="3.60" height="12.77" fill="#0e9012"/>
<rect x="128.48" y="212.27" width="3.60" height="12.77" fill="#0e9012"/>
<rect x="133.19" y="212.27" width="3.60" height="12.77" fill="#0e9012"/>
<rect x="137.91" y="212.27" width="3.60" height="12.77" fill="#0e9012"/>
<rect x="142.62" y="212.27" width="3.60" height="12.77" fill="#0e9012"/>
<rect x="147.34" y="212.27" width="3.60" height="12.77" fill="#0e9012"/>
<rect x="152.06" y="212.27" width="3.60" height="12.77" fill="#0e9012"/>
<rect x="156.77" y="212.27" width="3.60" height="12.77" fill="#0e9012"/>
<rect x="161.49" y="212.27" width="3.60" height="12.77" fill="#0e9012"/>
<rect x="166.20" y="212.27" width="3.60" height="12.77" fill="#0e9012"/>
<rect x="170.92" y="212.27" width="3.60" height="12.77" fill="#0e9012"/>
<rect x="203.93" y="212.27" width="3.60" height="12.77" fill="#0e9012"/>
<rect x="208.65" y="212.27" width="3.60" height="12.77" fill="#0e9012"/>
<rect x="213.36" y="212.27" width="3.60" height="12.77" fill="#0e9012"/>
<rect x="218.08" y="212.27" width="3.60" height="12.77" fill="#0e9012"/>
<rect x="222.80" y="212.27" width="3.60" height="12.77" fill="#0e9012"/>
<rect x="227.51" y="212.27" width="3.60" height="12.77" fill="#0e9012"/>
<rect x="232.23" y="212.27" width="3.60" height="12.77" fill="#0e9012"/>
<rect x="236.94" y="212.27" width="3.60" height="12.77" fill="#0e9012"/>
<rect x="241.66" y="212.27" width="3.60" height="12.77" fill="#0e9012"/>
<rect x="246.38" y="212.27" width="3.60" height="12.77" fill="#0e9012"/>
<rect x="251.09" y="212.27" width="3.60" height="12.77" fill="#0e9012"/>
<rect x="255.81" y="212.27" width="3.60" height="12.77" fill="#0e9012"/>
<rect x="260.52" y="212.27" width="3.60" height="12.77" fill="#0e9012"/>
<rect x="265.24" y="212.27" width="3.60" height="12.77" fill="#0e9012"/>
<rect x="269.96" y="212.27" width="3.60" height="12.77" fill="#0e9012"/>
<rect x="274.67" y="212.27" width="3.60" height="12.77" fill="#0e9012"/>
<rect x="279.39" y="212.27" width="3.60" height="12.77" fill="#0e9012"/>
<rect x="284.10" y="212.27" width="3.60" height="12.77" fill="#0e9012"/>
<rect x="288.82" y="212.27" width="3.60" height="12.77" fill="#0e9012"/>
<rect x="293.54" y="212.27" width="3.60" height="12.77" fill="#0e9012"/>
<rect x="406.72" y="212.27" width="3.60" height="12.77" fill="#0e9012"/>
<rect x="411.44" y="212.27" width="3.60" height="12.77" fill="#0e9012"/>
<rect x="416.15" y="212.27" width="3.60" height="12.77" fill="#0e9012"/>
<rect x="420.87" y="212.27" width="3.60" height="12.77" fill="#0e9012"/>
<rect x="425.58" y="212.27" width="3.60" height="12.77" fill="#0e9012"/>
<rect x="430.30" y="212.27" width="3.60" height="12.77" fill="#0e9012"/>
<rect x="435.02" y="212.27" width="3.60" height="12.77" fill="#0e9012"/>
<rect x="439.73" y="212.27" width="3.60" height="12.77" fill="#0e9012"/>
<rect x="444.45" y="212.27" width="3.60" height="12.77" fill="#0e9012"/>
<rect x="449.16" y="212.27" width="3.60" height="12.77" fill="#0e9012"/>
<rect x="155.57" y="226.59" width="1.3" height="12.77" fill="#a8c0e4"/>
<rect x="160.29" y="226.59" width="1.3" height="12.77" fill="#a8c0e4"/>
<rect x="165.00" y="226.59" width="1.3" height="12.77" fill="#a8c0e4"/>
<rect x="169.72" y="226.59" width="1.3" height="12.77" fill="#a8c0e4"/>
<rect x="174.44" y="226.59" width="1.3" height="12.77" fill="#a8c0e4"/>
<rect x="179.15" y="226.59" width="1.3" height="12.77" fill="#a8c0e4"/>
<rect x="183.87" y="226.59" width="1.3" height="12.77" fill="#a8c0e4"/>
<rect x="188.58" y="226.59" width="1.3" height="12.77" fill="#a8c0e4"/>
<rect x="193.30" y="226.59" width="1.3" height="12.77" fill="#a8c0e4"/>
<rect x="198.02" y="226.59" width="1.3" height="12.77" fill="#a8c0e4"/>
<rect x="447.96" y="226.59" width="1.3" height="12.77" fill="#a8c0e4"/>
<rect x="452.68" y="226.59" width="1.3" height="12.77" fill="#a8c0e4"/>
<rect x="457.40" y="226.59" width="1.3" height="12.77" fill="#a8c0e4"/>
<rect x="462.11" y="226.59" width="1.3" height="12.77" fill="#a8c0e4"/>
<rect x="466.83" y="226.59" width="1.3" height="12.77" fill="#a8c0e4"/>
<rect x="471.54" y="226.59" width="1.3" height="12.77" fill="#a8c0e4"/>
<rect x="152.06" y="226.59" width="3.60" height="12.77" fill="#4f81c4"/>
<rect x="156.77" y="226.59" width="3.60" height="12.77" fill="#4f81c4"/>
<rect x="161.49" y="226.59" width="3.60" height="12.77" fill="#4f81c4"/>
<rect x="166.20" y="226.59" width="3.60" height="12.77" fill="#4f81c4"/>
<rect x="170.92" y="226.59" width="3.60" height="12.77" fill="#4f81c4"/>
<rect x="175.64" y="226.59" width="3.60" height="12.77" fill="#4f81c4"/>
<rect x="180.35" y="226.59" width="3.60" height="12.77" fill="#4f81c4"/>
<rect x="185.07" y="226.59" width="3.60" height="12.77" fill="#4f81c4"/>
<rect x="189.78" y="226.59" width="3.60" height="12.77" fill="#4f81c4"/>
<rect x="194.50" y="226.59" width="3.60" height="12.77" fill="#4f81c4"/>
<rect x="199.22" y="226.59" width="3.60" height="12.77" fill="#4f81c4"/>
<rect x="444.45" y="226.59" width="3.60" height="12.77" fill="#4f81c4"/>
<rect x="449.16" y="226.59" width="3.60" height="12.77" fill="#4f81c4"/>
<rect x="453.88" y="226.59" width="3.60" height="12.77" fill="#4f81c4"/>
<rect x="458.60" y="226.59" width="3.60" height="12.77" fill="#4f81c4"/>
<rect x="463.31" y="226.59" width="3.60" height="12.77" fill="#4f81c4"/>
<rect x="468.03" y="226.59" width="3.60" height="12.77" fill="#4f81c4"/>
<rect x="472.74" y="226.59" width="3.60" height="12.77" fill="#4f81c4"/>
<rect x="80.12" y="240.91" width="1.3" height="12.77" fill="#8cd888"/>
<rect x="84.83" y="240.91" width="1.3" height="12.77" fill="#8cd888"/>
<rect x="89.55" y="240.91" width="1.3" height="12.77" fill="#8cd888"/>
<rect x="94.26" y="240.91" width="1.3" height="12.77" fill="#8cd888"/>
<rect x="98.98" y="240.91" width="1.3" height="12.77" fill="#8cd888"/>
<rect x="103.70" y="240.91" width="1.3" height="12.77" fill="#8cd888"/>
<rect x="108.41" y="240.91" width="1.3" height="12.77" fill="#8cd888"/>
<rect x="113.13" y="240.91" width="1.3" height="12.77" fill="#8cd888"/>
<rect x="117.84" y="240.91" width="1.3" height="12.77" fill="#8cd888"/>
<rect x="122.56" y="240.91" width="1.3" height="12.77" fill="#8cd888"/>
<rect x="127.28" y="240.91" width="1.3" height="12.77" fill="#8cd888"/>
<rect x="131.99" y="240.91" width="1.3" height="12.77" fill="#8cd888"/>
<rect x="136.71" y="240.91" width="1.3" height="12.77" fill="#8cd888"/>
<rect x="141.42" y="240.91" width="1.3" height="12.77" fill="#8cd888"/>
<rect x="146.14" y="240.91" width="1.3" height="12.77" fill="#8cd888"/>
<rect x="150.86" y="240.91" width="1.3" height="12.77" fill="#8cd888"/>
<rect x="155.57" y="240.91" width="1.3" height="12.77" fill="#8cd888"/>
<rect x="76.60" y="240.91" width="3.60" height="12.77" fill="#0e9012"/>
<rect x="81.32" y="240.91" width="3.60" height="12.77" fill="#0e9012"/>
<rect x="86.03" y="240.91" width="3.60" height="12.77" fill="#0e9012"/>
<rect x="90.75" y="240.91" width="3.60" height="12.77" fill="#0e9012"/>
<rect x="95.46" y="240.91" width="3.60" height="12.77" fill="#0e9012"/>
<rect x="100.18" y="240.91" width="3.60" height="12.77" fill="#0e9012"/>
<rect x="104.90" y="240.91" width="3.60" height="12.77" fill="#0e9012"/>
<rect x="109.61" y="240.91" width="3.60" height="12.77" fill="#0e9012"/>
<rect x="114.33" y="240.91" width="3.60" height="12.77" fill="#0e9012"/>
<rect x="119.04" y="240.91" width="3.60" height="12.77" fill="#0e9012"/>
<rect x="123.76" y="240.91" width="3.60" height="12.77" fill="#0e9012"/>
<rect x="128.48" y="240.91" width="3.60" height="12.77" fill="#0e9012"/>
<rect x="133.19" y="240.91" width="3.60" height="12.77" fill="#0e9012"/>
<rect x="137.91" y="240.91" width="3.60" height="12.77" fill="#0e9012"/>
<rect x="142.62" y="240.91" width="3.60" height="12.77" fill="#0e9012"/>
<rect x="147.34" y="240.91" width="3.60" height="12.77" fill="#0e9012"/>
<rect x="152.06" y="240.91" width="3.60" height="12.77" fill="#0e9012"/>
<rect x="156.77" y="240.91" width="3.60" height="12.77" fill="#0e9012"/>
<rect x="425.58" y="240.91" width="3.60" height="12.77" fill="#0e9012"/>
<rect x="429.10" y="255.23" width="1.3" height="12.77" fill="#dc9ea0"/>
<rect x="433.82" y="255.23" width="1.3" height="12.77" fill="#dc9ea0"/>
<rect x="438.53" y="255.23" width="1.3" height="12.77" fill="#dc9ea0"/>
<rect x="443.25" y="255.23" width="1.3" height="12.77" fill="#dc9ea0"/>
<rect x="480.98" y="255.23" width="1.3" height="12.77" fill="#dc9ea0"/>
<rect x="425.58" y="255.23" width="3.60" height="12.77" fill="#8c2d2f"/>
<rect x="430.30" y="255.23" width="3.60" height="12.77" fill="#8c2d2f"/>
<rect x="435.02" y="255.23" width="3.60" height="12.77" fill="#8c2d2f"/>
<rect x="439.73" y="255.23" width="3.60" height="12.77" fill="#8c2d2f"/>
<rect x="444.45" y="255.23" width="3.60" height="12.77" fill="#8c2d2f"/>
<rect x="477.46" y="255.23" width="3.60" height="12.77" fill="#8c2d2f"/>
<rect x="482.18" y="255.23" width="3.60" height="12.77" fill="#8c2d2f"/>
<rect x="490.41" y="269.55" width="1.3" height="12.77" fill="#dc9ea0"/>
<rect x="265.24" y="269.55" width="3.60" height="12.77" fill="#8c2d2f"/>
<rect x="279.39" y="269.55" width="3.60" height="12.77" fill="#8c2d2f"/>
<rect x="420.87" y="269.55" width="3.60" height="12.77" fill="#8c2d2f"/>
<rect x="486.89" y="269.55" width="3.60" height="12.77" fill="#8c2d2f"/>
<rect x="491.61" y="269.55" width="3.60" height="12.77" fill="#8c2d2f"/>
<rect x="499.84" y="283.87" width="1.3" height="12.77" fill="#c8b8e0"/>
<rect x="128.48" y="283.87" width="3.60" height="12.77" fill="#7d62a6"/>
<rect x="152.06" y="283.87" width="3.60" height="12.77" fill="#7d62a6"/>
<rect x="321.83" y="283.87" width="3.60" height="12.77" fill="#7d62a6"/>
<rect x="420.87" y="283.87" width="3.60" height="12.77" fill="#7d62a6"/>
<rect x="496.32" y="283.87" width="3.60" height="12.77" fill="#7d62a6"/>
<rect x="501.04" y="283.87" width="3.60" height="12.77" fill="#7d62a6"/>
<rect x="288.82" y="298.19" width="3.60" height="12.77" fill="#e4700e"/>
<rect x="416.15" y="298.19" width="3.60" height="12.77" fill="#e4700e"/>
<rect x="131.99" y="312.51" width="1.3" height="12.77" fill="#f2c08e"/>
<rect x="119.04" y="312.51" width="3.60" height="12.77" fill="#e4700e"/>
<rect x="128.48" y="312.51" width="3.60" height="12.77" fill="#e4700e"/>
<rect x="133.19" y="312.51" width="3.60" height="12.77" fill="#e4700e"/>
<rect x="241.66" y="312.51" width="3.60" height="12.77" fill="#e4700e"/>
<rect x="312.40" y="312.51" width="3.60" height="12.77" fill="#e4700e"/>
<rect x="123.76" y="326.83" width="3.60" height="12.77" fill="#e4700e"/>
<rect x="354.84" y="326.83" width="3.60" height="12.77" fill="#e4700e"/>
<rect x="496.32" y="326.83" width="3.60" height="12.77" fill="#e4700e"/>
<rect x="449.16" y="341.15" width="3.60" height="12.77" fill="#8c2d2f"/>
<rect x="468.03" y="341.15" width="3.60" height="12.77" fill="#8c2d2f"/>
<rect x="496.32" y="341.15" width="3.60" height="12.77" fill="#8c2d2f"/>
<rect x="133.19" y="355.47" width="3.60" height="12.77" fill="#4f81c4"/>
<rect x="232.23" y="355.47" width="3.60" height="12.77" fill="#4f81c4"/>
<rect x="411.44" y="355.47" width="3.60" height="12.77" fill="#4f81c4"/>
<rect x="227.51" y="369.79" width="3.60" height="12.77" fill="#7d62a6"/>
<rect x="302.97" y="369.79" width="3.60" height="12.77" fill="#7d62a6"/>
<rect x="453.88" y="369.79" width="3.60" height="12.77" fill="#7d62a6"/>
<rect x="312.40" y="384.11" width="3.60" height="12.77" fill="#7d62a6"/>
<rect x="387.86" y="384.11" width="3.60" height="12.77" fill="#7d62a6"/>
<rect x="137.91" y="398.43" width="3.60" height="12.77" fill="#e4700e"/>
<rect x="161.49" y="398.43" width="3.60" height="12.77" fill="#e4700e"/>
<rect x="420.87" y="398.43" width="3.60" height="12.77" fill="#e4700e"/>
<rect x="166.20" y="412.75" width="3.60" height="12.77" fill="#0e9012"/>
<rect x="482.18" y="412.75" width="3.60" height="12.77" fill="#0e9012"/>
<rect x="152.06" y="427.07" width="3.60" height="12.77" fill="#0e9012"/>
<rect x="203.93" y="441.39" width="3.60" height="12.77" fill="#7d62a6"/>
<rect x="444.45" y="455.71" width="3.60" height="12.77" fill="#7d62a6"/>
<rect x="76.60" y="470.03" width="3.60" height="12.77" fill="#000"/>
<rect x="86.03" y="470.03" width="3.60" height="12.77" fill="#000"/>
<rect x="100.18" y="470.03" width="3.60" height="12.77" fill="#000"/>
<rect x="123.76" y="470.03" width="3.60" height="12.77" fill="#000"/>
<rect x="128.48" y="470.03" width="3.60" height="12.77" fill="#000"/>
<rect x="246.38" y="470.03" width="3.60" height="12.77" fill="#000"/>
<rect x="302.97" y="470.03" width="3.60" height="12.77" fill="#000"/>
<rect x="312.40" y="470.03" width="3.60" height="12.77" fill="#000"/>
<rect x="317.12" y="470.03" width="3.60" height="12.77" fill="#000"/>
<rect x="326.55" y="470.03" width="3.60" height="12.77" fill="#000"/>
<rect x="331.26" y="470.03" width="3.60" height="12.77" fill="#000"/>
<rect x="340.70" y="470.03" width="3.60" height="12.77" fill="#000"/>
<rect x="354.84" y="470.03" width="3.60" height="12.77" fill="#000"/>
<rect x="373.71" y="470.03" width="3.60" height="12.77" fill="#000"/>
<rect x="378.42" y="470.03" width="3.60" height="12.77" fill="#000"/>
<rect x="416.15" y="470.03" width="3.60" height="12.77" fill="#000"/>
<rect x="444.45" y="470.03" width="3.60" height="12.77" fill="#000"/>
<rect x="468.03" y="470.03" width="3.60" height="12.77" fill="#000"/>
<rect x="505.76" y="470.03" width="3.60" height="12.77" fill="#000"/>
<rect x="212.96" y="470.03" width="4.32" height="12.77" fill="#c0c0c0"/>
<rect x="425.18" y="470.03" width="4.32" height="12.77" fill="#c0c0c0"/>
<rect x="76.60" y="484.35" width="3.60" height="12.77" fill="#000"/>
<rect x="95.46" y="484.35" width="3.60" height="12.77" fill="#000"/>
<rect x="109.61" y="484.35" width="3.60" height="12.77" fill="#000"/>
<rect x="128.48" y="484.35" width="3.60" height="12.77" fill="#000"/>
<rect x="142.62" y="484.35" width="3.60" height="12.77" fill="#000"/>
<rect x="147.34" y="484.35" width="3.60" height="12.77" fill="#000"/>
<rect x="152.06" y="484.35" width="3.60" height="12.77" fill="#000"/>
<rect x="161.49" y="484.35" width="3.60" height="12.77" fill="#000"/>
<rect x="170.92" y="484.35" width="3.60" height="12.77" fill="#000"/>
<rect x="175.64" y="484.35" width="3.60" height="12.77" fill="#000"/>
<rect x="185.07" y="484.35" width="3.60" height="12.77" fill="#000"/>
<rect x="203.93" y="484.35" width="3.60" height="12.77" fill="#000"/>
<rect x="208.65" y="484.35" width="3.60" height="12.77" fill="#000"/>
<rect x="227.51" y="484.35" width="3.60" height="12.77" fill="#000"/>
<rect x="265.24" y="484.35" width="3.60" height="12.77" fill="#000"/>
<rect x="284.10" y="484.35" width="3.60" height="12.77" fill="#000"/>
<rect x="302.97" y="484.35" width="3.60" height="12.77" fill="#000"/>
<rect x="326.55" y="484.35" width="3.60" height="12.77" fill="#000"/>
<rect x="331.26" y="484.35" width="3.60" height="12.77" fill="#000"/>
<rect x="340.70" y="484.35" width="3.60" height="12.77" fill="#000"/>
<rect x="354.84" y="484.35" width="3.60" height="12.77" fill="#000"/>
<rect x="359.56" y="484.35" width="3.60" height="12.77" fill="#000"/>
<rect x="368.99" y="484.35" width="3.60" height="12.77" fill="#000"/>
<rect x="373.71" y="484.35" width="3.60" height="12.77" fill="#000"/>
<rect x="383.14" y="484.35" width="3.60" height="12.77" fill="#000"/>
<rect x="387.86" y="484.35" width="3.60" height="12.77" fill="#000"/>
<rect x="392.57" y="484.35" width="3.60" height="12.77" fill="#000"/>
<rect x="397.29" y="484.35" width="3.60" height="12.77" fill="#000"/>
<rect x="406.72" y="484.35" width="3.60" height="12.77" fill="#000"/>
<rect x="420.87" y="484.35" width="3.60" height="12.77" fill="#000"/>
<rect x="430.30" y="484.35" width="3.60" height="12.77" fill="#000"/>
<rect x="435.02" y="484.35" width="3.60" height="12.77" fill="#000"/>
<rect x="439.73" y="484.35" width="3.60" height="12.77" fill="#000"/>
<rect x="449.16" y="484.35" width="3.60" height="12.77" fill="#000"/>
<rect x="463.31" y="484.35" width="3.60" height="12.77" fill="#000"/>
<rect x="468.03" y="484.35" width="3.60" height="12.77" fill="#000"/>
<rect x="486.89" y="484.35" width="3.60" height="12.77" fill="#000"/>
</g>
<g font-size="10.4" fill="#000" stroke="#000" stroke-width="0.2">
<text x="75.2" y="208.40" text-anchor="end" textLength="28.1" lengthAdjust="spacingAndGlyphs" style="font-weight:bold;font-style:italic">SF3B1</text>
<text x="75.2" y="222.72" text-anchor="end" textLength="21.7" lengthAdjust="spacingAndGlyphs" style="font-weight:bold;font-style:italic">TET2</text>
<text x="75.2" y="237.04" text-anchor="end" textLength="28.5" lengthAdjust="spacingAndGlyphs" style="font-weight:bold;font-style:italic">ASXL1</text>
<text x="75.2" y="251.36" text-anchor="end" textLength="42.1" lengthAdjust="spacingAndGlyphs" style="font-weight:bold;font-style:italic">DNMT3A</text>
<text x="75.2" y="265.68" text-anchor="end" textLength="28.1" lengthAdjust="spacingAndGlyphs" style="font-weight:bold;font-style:italic">SRSF2</text>
<text x="75.2" y="280.00" text-anchor="end" textLength="29.3" lengthAdjust="spacingAndGlyphs" style="font-weight:bold;font-style:italic">ZRSR2</text>
<text x="75.2" y="294.32" text-anchor="end" textLength="21.7" lengthAdjust="spacingAndGlyphs" style="font-weight:bold;font-style:italic">JAK2</text>
<text x="75.2" y="308.64" text-anchor="end" textLength="32.6" lengthAdjust="spacingAndGlyphs" style="font-weight:bold;font-style:italic">RUNX1</text>
<text x="75.2" y="322.96" text-anchor="end" textLength="23.0" lengthAdjust="spacingAndGlyphs" style="font-weight:bold;font-style:italic">ETV6</text>
<text x="75.2" y="337.28" text-anchor="end" textLength="22.1" lengthAdjust="spacingAndGlyphs" style="font-weight:bold;font-style:italic">TP53</text>
<text x="75.2" y="351.60" text-anchor="end" textLength="29.8" lengthAdjust="spacingAndGlyphs" style="font-weight:bold;font-style:italic">U2AF1</text>
<text x="75.2" y="365.92" text-anchor="end" textLength="23.7" lengthAdjust="spacingAndGlyphs" style="font-weight:bold;font-style:italic">EZH2</text>
<text x="75.2" y="380.24" text-anchor="end" textLength="33.8" lengthAdjust="spacingAndGlyphs" style="font-weight:bold;font-style:italic">SETBP1</text>
<text x="75.2" y="394.56" text-anchor="end" textLength="16.5" lengthAdjust="spacingAndGlyphs" style="font-weight:bold;font-style:italic">CBL</text>
<text x="75.2" y="408.88" text-anchor="end" textLength="23.7" lengthAdjust="spacingAndGlyphs" style="font-weight:bold;font-style:italic">PHF6</text>
<text x="75.2" y="423.20" text-anchor="end" textLength="21.8" lengthAdjust="spacingAndGlyphs" style="font-weight:bold;font-style:italic">IDH2</text>
<text x="75.2" y="437.52" text-anchor="end" textLength="21.8" lengthAdjust="spacingAndGlyphs" style="font-weight:bold;font-style:italic">IDH1</text>
<text x="75.2" y="451.84" text-anchor="end" textLength="13.9" lengthAdjust="spacingAndGlyphs" style="font-weight:bold;font-style:italic">KIT</text>
<text x="75.2" y="466.16" text-anchor="end" textLength="24.5" lengthAdjust="spacingAndGlyphs" style="font-weight:bold;font-style:italic">NRAS</text>
<text x="75.2" y="480.28" text-anchor="end" textLength="47.3" lengthAdjust="spacingAndGlyphs" style="font-weight:bold;font-size:10px">Karyotype</text>
<text x="75.2" y="494.60" text-anchor="end" textLength="76.0" lengthAdjust="spacingAndGlyphs" style="font-weight:bold;font-size:10px">Response status</text>
</g>
</svg>
</body></html>
